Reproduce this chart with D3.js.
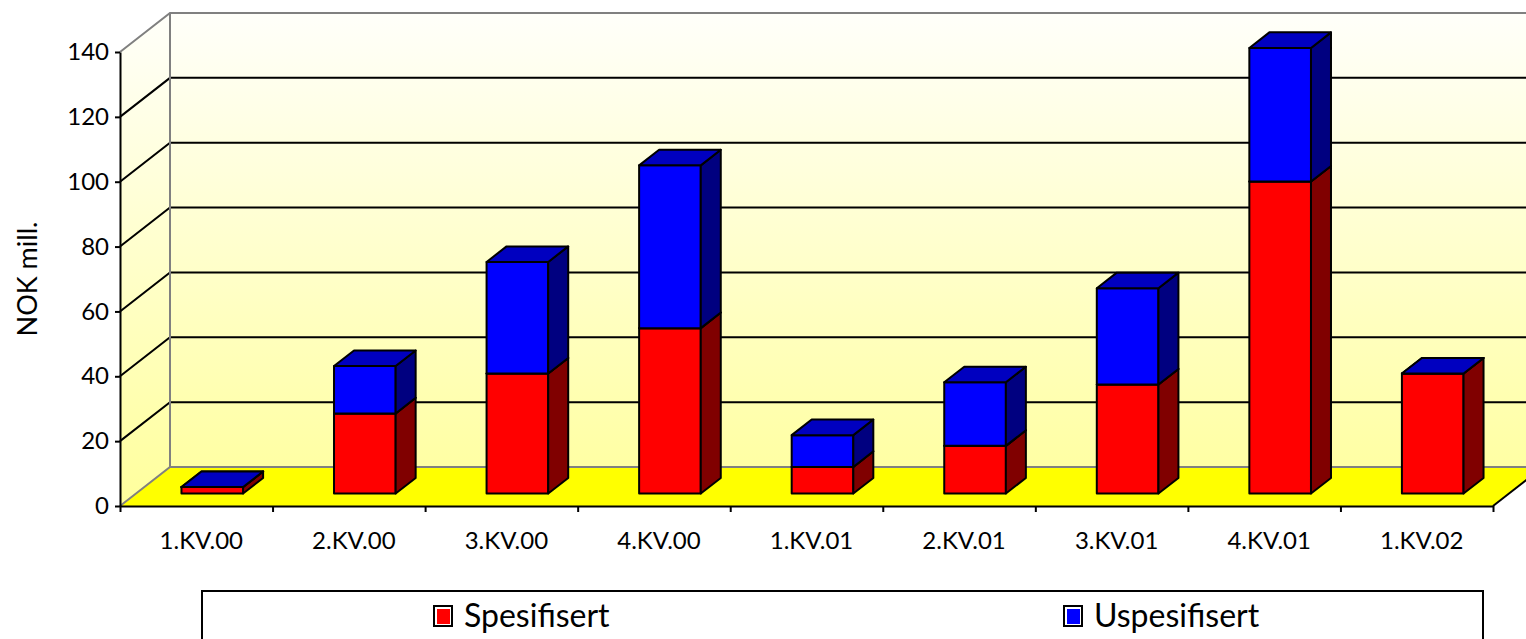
<!DOCTYPE html>
<html>
<head>
<meta charset="utf-8">
<script src="https://cdn.jsdelivr.net/npm/d3@7"></script>
<style>
  html, body { margin: 0; padding: 0; background: #fff; }
  svg { display: block; font-family: Lato, "Open Sans", sans-serif; }
</style>
</head>
<body>
<div id="chart"></div>
<script>
// chart values (NOK mill.)
var categories = ["1.KV.00", "2.KV.00", "3.KV.00", "4.KV.00", "1.KV.01", "2.KV.01", "3.KV.01", "4.KV.01", "1.KV.02"];
var spesifisert = [2, 24.7, 37, 51, 8.2, 14.7, 33.6, 96.2, 37];
var uspesifisert = [0, 14.6, 34.4, 50.2, 9.8, 19.6, 29.7, 41.2, 0];
var yTicks = [0, 20, 40, 60, 80, 100, 120, 140];
var seriesNames = ["Spesifisert", "Uspesifisert"];

var W = 1526, H = 639;
var plot = { left: 120, right: 1493, top: 52, bottom: 506 };
var depth = { dx: 50, dy: -39 };          // offset from front plane to back wall
var barDepth = [0.32, 0.72];             // bar front / back as a fraction of the depth

var colors = [
  { front: "#ff0000", side: "#800000", top: "#c00000" },
  { front: "#0000ff", side: "#000080", top: "#0000c0" }
];

var svg = d3.select("#chart").append("svg")
  .attr("width", W)
  .attr("height", H);

var x = d3.scaleBand().domain(categories).range([plot.left, plot.right]);
var y = d3.scaleLinear().domain([0, 140]).range([plot.bottom, plot.top]);

// project a point (px on front plane, value, depth fraction)
function P(px, v, d) {
  return [px + d * depth.dx, y(v) + d * depth.dy];
}
function poly(pts) {
  return pts.map(function (p) { return p.join(","); }).join(" ");
}

// wall gradient
var grad = svg.append("defs").append("linearGradient")
  .attr("id", "wall")
  .attr("gradientUnits", "userSpaceOnUse")
  .attr("x1", 0).attr("y1", y(140) + depth.dy)
  .attr("x2", 0).attr("y2", y(0));
grad.append("stop").attr("offset", "0%").attr("stop-color", "#fffffa");
grad.append("stop").attr("offset", "100%").attr("stop-color", "#ffff9c");

var xL = plot.left, xR = plot.right;

// left side wall
svg.append("polygon")
  .attr("points", poly([P(xL, 0, 0), P(xL, 140, 0), P(xL, 140, 1), P(xL, 0, 1)]))
  .attr("fill", "url(#wall)");

// back wall
svg.append("polygon")
  .attr("points", poly([P(xL, 0, 1), P(xL, 140, 1), P(xR, 140, 1), P(xR, 0, 1)]))
  .attr("fill", "url(#wall)");

// grid lines on side and back wall
svg.append("g").selectAll("polyline")
  .data(yTicks.filter(function (v) { return v > 0 && v < 140; }))
  .enter().append("polyline")
  .attr("points", function (v) { return poly([P(xL, v, 0), P(xL, v, 1), P(xR, v, 1)]); })
  .attr("fill", "none")
  .attr("stroke", "#000")
  .attr("stroke-width", 2);

// wall outlines
svg.append("polyline")
  .attr("points", poly([P(xL, 140, 0), P(xL, 140, 1), P(xR, 140, 1)]))
  .attr("fill", "none").attr("stroke", "#808080").attr("stroke-width", 2);
svg.append("line")
  .attr("x1", P(xL, 0, 1)[0]).attr("y1", P(xL, 0, 1)[1])
  .attr("x2", P(xL, 140, 1)[0]).attr("y2", P(xL, 140, 1)[1])
  .attr("stroke", "#808080").attr("stroke-width", 2);

// floor
svg.append("polygon")
  .attr("points", poly([P(xL, 0, 0), P(xR, 0, 0), P(xR, 0, 1), P(xL, 0, 1)]))
  .attr("fill", "#ffff00");
svg.append("polyline")
  .attr("points", poly([P(xL, 0, 0), P(xL, 0, 1), P(xR, 0, 1)]))
  .attr("fill", "none").attr("stroke", "#808080").attr("stroke-width", 2);
svg.append("line")
  .attr("x1", P(xR, 0, 0)[0]).attr("y1", P(xR, 0, 0)[1])
  .attr("x2", P(xR, 0, 1)[0]).attr("y2", P(xR, 0, 1)[1])
  .attr("stroke", "#000").attr("stroke-width", 2);

// stacked 3d bars
var stackData = categories.map(function (c, i) {
  return { cat: c, values: [spesifisert[i], uspesifisert[i]] };
});
var barW = x.bandwidth() * 0.404;

var bars = svg.append("g").selectAll("g")
  .data(stackData)
  .enter().append("g");

bars.each(function (d) {
  var g = d3.select(this);
  var cx = x(d.cat) + x.bandwidth() / 2;
  var x0 = cx - barW / 2, x1 = cx + barW / 2;
  var f0 = barDepth[0], f1 = barDepth[1];
  var base = 0;
  d.values.forEach(function (v, s) {
    var lo = base, hi = base + v;
    base = hi;
    var c = colors[s];
    // front
    g.append("polygon")
      .attr("points", poly([P(x0, lo, f0), P(x1, lo, f0), P(x1, hi, f0), P(x0, hi, f0)]))
      .attr("fill", c.front);
    // side
    g.append("polygon")
      .attr("points", poly([P(x1, lo, f0), P(x1, lo, f1), P(x1, hi, f1), P(x1, hi, f0)]))
      .attr("fill", c.side);
    // top
    g.append("polygon")
      .attr("points", poly([P(x0, hi, f0), P(x1, hi, f0), P(x1, hi, f1), P(x0, hi, f1)]))
      .attr("fill", c.top);
  });
  g.selectAll("polygon")
    .attr("stroke", "#000")
    .attr("stroke-width", 2)
    .attr("stroke-linejoin", "round");
});

// y axis
var yAxis = d3.axisLeft(y)
  .tickValues(yTicks)
  .tickSize(5)
  .tickSizeOuter(0)
  .tickPadding(6);
var yG = svg.append("g")
  .attr("transform", "translate(" + plot.left + ",0)")
  .call(yAxis);
yG.select(".domain").attr("stroke", "#000").attr("stroke-width", 2);
yG.selectAll(".tick line").attr("stroke", "#000").attr("stroke-width", 2);
yG.selectAll(".tick text")
  .attr("font-size", 24)
  .attr("font-family", "Lato, sans-serif")
  .attr("fill", "#000");

// x axis: tick marks at band edges
var xEdges = d3.scaleLinear().domain([0, categories.length]).range([plot.left, plot.right]);
var xTickG = svg.append("g")
  .attr("transform", "translate(0," + plot.bottom + ")")
  .call(d3.axisBottom(xEdges)
    .tickValues(d3.range(categories.length + 1))
    .tickFormat("")
    .tickSize(6)
    .tickSizeOuter(0));
xTickG.select(".domain").attr("stroke", "#000").attr("stroke-width", 2);
xTickG.selectAll(".tick line").attr("stroke", "#000").attr("stroke-width", 2);

// x axis labels
var xLabG = svg.append("g")
  .attr("transform", "translate(5," + plot.bottom + ")")
  .call(d3.axisBottom(x).tickSize(0).tickPadding(26));
xLabG.select(".domain").remove();
xLabG.selectAll(".tick text")
  .attr("font-size", 24)
  .attr("font-family", "Lato, sans-serif")
  .attr("fill", "#000");

// y axis title
svg.append("text")
  .attr("transform", "translate(37,279) rotate(-90)")
  .attr("text-anchor", "middle")
  .attr("font-size", 27)
  .attr("fill", "#000")
  .text("NOK mill.");

// legend
var legend = svg.append("g");
legend.append("rect")
  .attr("x", 202).attr("y", 591)
  .attr("width", 1281).attr("height", 70)
  .attr("fill", "#fff")
  .attr("stroke", "#000")
  .attr("stroke-width", 2);

var legendX = [434, 1064];
var items = legend.selectAll("g.item")
  .data(seriesNames)
  .enter().append("g")
  .attr("class", "item")
  .attr("transform", function (d, i) { return "translate(" + legendX[i] + ",606)"; });
items.append("rect")
  .attr("width", 18).attr("height", 20)
  .attr("fill", "#fff")
  .attr("stroke", "#000")
  .attr("stroke-width", 2);
items.append("rect")
  .attr("x", 3).attr("y", 3)
  .attr("width", 13).attr("height", 15)
  .attr("fill", function (d, i) { return colors[i].front; });
items.append("text")
  .attr("x", 30).attr("y", 21)
  .attr("font-size", 32)
  .attr("fill", "#000")
  .text(function (d) { return d; });
</script>
</body>
</html>
